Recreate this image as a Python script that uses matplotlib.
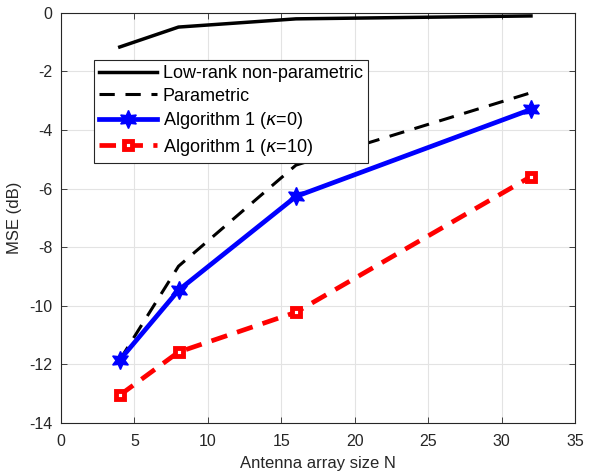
import matplotlib
matplotlib.use('Agg')
import matplotlib.pyplot as plt

# antenna array sizes
N = [4, 8, 16, 32]

# MSE values in dB
mse_lowrank = [-1.17, -0.49, -0.21, -0.11]
mse_parametric = [-11.85, -8.65, -5.2, -2.73]
mse_alg_k0 = [-11.85, -9.47, -6.27, -3.3]
mse_alg_k10 = [-13.05, -11.58, -10.22, -5.59]

labels = ['Low-rank non-parametric', 'Parametric',
          r'Algorithm 1 ($\kappa$=0)', r'Algorithm 1 ($\kappa$=10)']

plt.rcParams['font.family'] = ['Liberation Sans', 'DejaVu Sans']
plt.rcParams['mathtext.fontset'] = 'dejavusans'
plt.rcParams['axes.unicode_minus'] = False

fig = plt.figure(figsize=(5.89, 4.74), dpi=100)
ax = fig.add_axes([0.1036, 0.1076, 0.8727, 0.8656])

ax.plot(N, mse_lowrank, color='black', linewidth=2.5, label=labels[0])
ax.plot(N, mse_parametric, color='black', linewidth=2.2, linestyle=(0, (5, 3.5)), label=labels[1])
ax.plot(N, mse_alg_k0, color='#0000ff', linewidth=3.4, marker=(6, 1, 0), markersize=13,
        label=labels[2])
ax.plot(N, mse_alg_k10, color='#ff0000', linewidth=3.4, linestyle=(0, (3.5, 2.2)),
        marker='s', markersize=6, markerfacecolor='white', markeredgewidth=3.5,
        label=labels[3])

ax.set_xlim(0, 35)
ax.set_ylim(-14, 0)
ax.set_xticks(range(0, 36, 5))
ax.set_yticks(range(-14, 1, 2))
ax.grid(True, color='#e3e3e3', linewidth=0.8)
ax.set_axisbelow(True)
ax.tick_params(direction='in', top=True, right=True, labelsize=11.5, colors='#262626',
               length=4, width=0.6)
ax.tick_params(axis='x', pad=8)
ax.tick_params(axis='y', pad=6)
for sp in ax.spines.values():
    sp.set_color('#262626')
    sp.set_linewidth(0.8)

ax.set_xlabel('Antenna array size N', fontsize=12, color='#262626', labelpad=5)
ax.set_ylabel('MSE (dB)', fontsize=12, color='#262626', labelpad=5)

leg = ax.legend(loc='upper left', bbox_to_anchor=(0.064, 0.885), borderaxespad=0,
                fontsize=13, fancybox=False, framealpha=1, edgecolor='#262626',
                handlelength=3.2, handletextpad=0.3, labelspacing=0.3,
                borderpad=0.3)
leg.get_frame().set_linewidth(0.8)

fig.savefig('out.png', dpi=100)
